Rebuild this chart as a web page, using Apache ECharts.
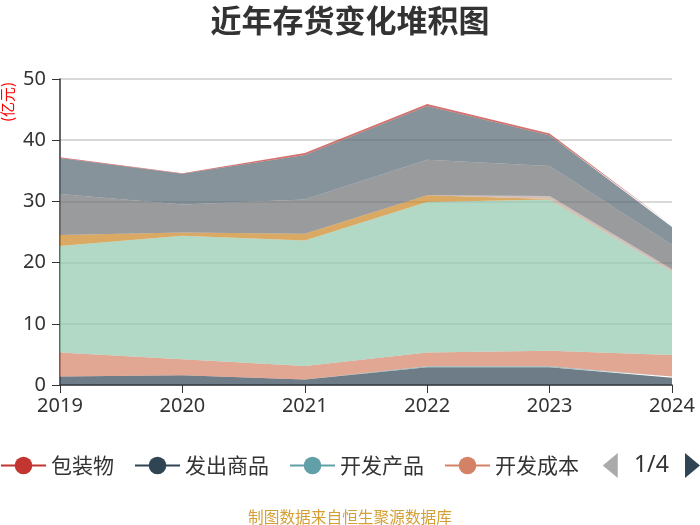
<!DOCTYPE html>
<html>
<head>
<meta charset="utf-8">
<script src="https://cdn.jsdelivr.net/npm/echarts@6/dist/echarts.min.js"></script>
<style>html,body{margin:0;padding:0;background:#fff}#c{width:700px;height:525px}</style>
</head>
<body>
<div id="c"></div>
<script>
var years = ['2019','2020','2021','2022','2023','2024'];
var seriesNames = ['包装物','发出商品','开发产品','开发成本','库存商品','劳务成本','委托加工物资','消耗性生物资产','原材料','在产品','周转材料','自制半成品'];
var s_baozhuangwu   = [0, 0, 0, 0, 0, 0];
var s_fachu         = [1.4, 1.6, 0.9, 2.9, 2.9, 1.2];
var s_kaifachanpin  = [0, 0, 0, 0.15, 0.15, 0.2];
var s_kaifachengben = [3.9, 2.6, 2.2, 2.25, 2.55, 3.5];
var s_kucun         = [17.4, 20.2, 20.5, 24.6, 24.7, 13.6];
var s_laowu         = [0, 0, 0, 0, 0, 0];
var s_weituo        = [1.8, 0.5, 1.1, 1.1, 0.1, 0];
var s_xiaohao       = [0, 0, 0, 0, 0.5, 0.4];
var s_yuancailiao   = [6.7, 4.6, 5.6, 5.8, 4.9, 4.0];
var s_zaichanpin    = [5.9, 5.0, 7.3, 8.8, 5.0, 2.9];
var s_zhouzhuan     = [0, 0, 0, 0, 0, 0];
var s_zizhi         = [0.1, 0.1, 0.3, 0.3, 0.3, 0.3];
var seriesValues = [s_baozhuangwu, s_fachu, s_kaifachanpin, s_kaifachengben, s_kucun, s_laowu, s_weituo, s_xiaohao, s_yuancailiao, s_zaichanpin, s_zhouzhuan, s_zizhi];
var palette = ['#c23531','#2f4554','#61a0a8','#d48265','#91c7ae','#749f83','#ca8622','#bda29a','#6e7074','#546570','#c4ccd3'];
var yTicks = [0, 50, 10];

var chart = echarts.init(document.getElementById('c'));
var series = seriesNames.map(function (n, i) {
  return {
    name: n, type: 'line', stack: 'total', data: seriesValues[i],
    symbol: 'circle', showSymbol: false,
    lineStyle: {width: 0},
    areaStyle: {opacity: 0.7}
  };
});
chart.setOption({
  color: palette,
  animation: false,
  title: [{
    text: '近年存货变化堆积图', left: 'center', top: 0,
    textStyle: {fontSize: 31, fontWeight: 'bold', color: '#333', fontFamily: 'Noto Sans CJK SC'}
  }, {
    text: '制图数据来自恒生聚源数据库', left: 'center', bottom: 0, padding: 0,
    textStyle: {fontSize: 15.7, fontWeight: 'normal', color: '#d4a035', fontFamily: 'Noto Sans CJK SC'}
  }],
  graphic: [{
    type: 'text', x: 7, y: 102, rotation: Math.PI / 2,
    style: {text: '(亿元)', fill: 'red', fontSize: 15, fontFamily: 'Noto Sans CJK SC', align: 'center', verticalAlign: 'middle'}
  }],
  grid: {left: 60, right: 28, top: 79, bottom: 140},
  legend: {
    type: 'scroll', left: 0, right: 0, bottom: 47, padding: 0,
    itemWidth: 45, itemHeight: 22, itemGap: 20,
    data: seriesNames,
    lineStyle: {width: 2, opacity: 1},
    textStyle: {fontSize: 21, color: '#333', fontFamily: 'Noto Sans CJK SC'},
    pageIconColor: '#2f4554', pageIconInactiveColor: '#aaa', pageIconSize: [15, 27],
    pageTextStyle: {fontSize: 23, color: '#333', fontFamily: 'Noto Sans'}
  },
  xAxis: {
    type: 'category', data: years, boundaryGap: false,
    axisLine: {lineStyle: {color: '#333', width: 1.5}},
    axisTick: {show: true, length: 8},
    axisLabel: {fontSize: 20, color: '#333', margin: 11, fontFamily: 'Noto Sans'}
  },
  yAxis: {
    type: 'value', min: yTicks[0], max: yTicks[1], interval: yTicks[2],
    axisLine: {show: true, lineStyle: {color: '#333', width: 1.5}},
    axisTick: {show: true, length: 8},
    axisLabel: {fontSize: 20, color: '#333', margin: 14, fontFamily: 'Noto Sans'},
    splitLine: {lineStyle: {color: '#ccc', width: 1.5}}
  },
  series: series
});
</script>
</body>
</html>
